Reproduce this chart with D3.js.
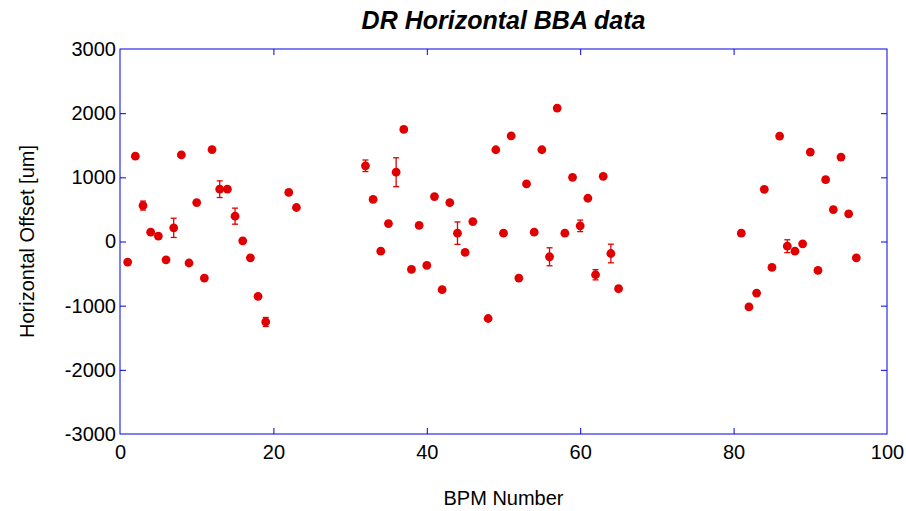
<!DOCTYPE html>
<html>
<head>
<meta charset="utf-8">
<script src="https://cdn.jsdelivr.net/npm/d3@7"></script>
<style>
	body { margin: 0; background: #fff; }
	svg { display: block; font-family: "Liberation Sans", Arial, sans-serif; }
</style>
</head>
<body>
<div id="chart"></div>
<script>
// BPM numbers and measured horizontal offsets (um), with error half-widths
const bpm = [1, 2, 3, 4, 5, 6, 7, 8, 9, 10, 11, 12, 13, 14, 15, 16, 17, 18, 19, 22, 23,
	32, 33, 34, 35, 36, 37, 38, 39, 40, 41, 42, 43, 44, 45, 46, 48, 49, 50, 51, 52, 53, 54,
	55, 56, 57, 58, 59, 60, 61, 62, 63, 64, 65,
	81, 82, 83, 84, 85, 86, 87, 88, 89, 90, 91, 92, 93, 94, 95, 96];
const offset = [-320, 1330, 560, 145, 85, -285, 213, 1350, -335, 606, -570, 1432, 815, 815, 395, 10, -254, -855, -1254, 765, 530,
	1180, 655, -150, 280, 1080, 1746, -435, 250, -373, 700, -750, 606, 130, -170, 311, -1200, 1430, 130, 1645, -570, 897, 145,
	1430, -238, 2080, 130, 1000, 244, 674, -518, 1015, -187, -736,
	130, -1020, -803, 813, -404, 1643, -73, -150, -36, 1394, -451, 964, 497, 1316, 430, -254];
const errors = [0, 0, 70, 0, 0, 0, 150, 0, 0, 0, 0, 0, 130, 0, 125, 0, 0, 0, 70, 0, 0,
	90, 0, 0, 0, 225, 0, 0, 0, 0, 0, 0, 0, 175, 0, 0, 0, 0, 0, 0, 0, 0, 0,
	0, 140, 0, 0, 0, 90, 0, 80, 0, 145, 0,
	40, 0, 0, 0, 0, 0, 100, 0, 0, 0, 0, 0, 0, 0, 0, 0];

const xTicks = [0, 20, 40, 60, 80, 100];
const yTicks = [-3000, -2000, -1000, 0, 1000, 2000, 3000];

const width = 906;
const height = 511;
const margin = ({ top: 49, right: 19, bottom: 77, left: 120 });

const data = bpm.map((b, i) => ({ x: b, y: offset[i], e: errors[i] }));

const x = d3.scaleLinear()
	.domain([0, 100])
	.range([margin.left, width - margin.right]);

const y = d3.scaleLinear()
	.domain([-3000, 3000])
	.range([height - margin.bottom, margin.top]);

const axisColor = "#0000e6";
const plain = d => d.toString();

const svg = d3.select("#chart")
	.append("svg")
	.attr("width", width)
	.attr("height", height)
	.attr("viewBox", [0, 0, width, height]);

const styleAxis = g => {
	g.select(".domain").remove();
	g.selectAll(".tick line").attr("stroke", axisColor);
	g.selectAll(".tick text").attr("fill", "#000").attr("font-size", 20);
};

// bottom axis with labels, ticks inward
svg.append("g")
	.attr("transform", `translate(0,${height - margin.bottom})`)
	.call(d3.axisBottom(x).tickValues(xTicks).tickSizeInner(-6).tickSizeOuter(0).tickPadding(11).tickFormat(plain))
	.call(styleAxis)
	.call(g => g.selectAll(".tick").filter(d => d === 0 || d === 100).select("line").remove());

// top ticks
svg.append("g")
	.attr("transform", `translate(0,${margin.top})`)
	.call(d3.axisTop(x).tickValues(xTicks).tickSizeInner(-6).tickSizeOuter(0).tickFormat(""))
	.call(styleAxis)
	.call(g => g.selectAll(".tick").filter(d => d === 0 || d === 100).select("line").remove());

// left axis with labels
svg.append("g")
	.attr("transform", `translate(${margin.left},0)`)
	.call(d3.axisLeft(y).tickValues(yTicks).tickSizeInner(-6).tickSizeOuter(0).tickPadding(4).tickFormat(plain))
	.call(styleAxis)
	.call(g => g.selectAll(".tick").filter(d => d === 3000 || d === -3000).select("line").remove());

// right ticks
svg.append("g")
	.attr("transform", `translate(${width - margin.right},0)`)
	.call(d3.axisRight(y).tickValues(yTicks).tickSizeInner(-6).tickSizeOuter(0).tickFormat(""))
	.call(styleAxis)
	.call(g => g.selectAll(".tick").filter(d => d === 3000 || d === -3000).select("line").remove());

// frame
svg.append("rect")
	.attr("x", x(0))
	.attr("y", y(3000))
	.attr("width", x(100) - x(0))
	.attr("height", y(-3000) - y(3000))
	.attr("fill", "none")
	.attr("stroke", axisColor)
	.attr("stroke-width", 1);

// error bars
const eb = svg.append("g")
	.attr("stroke", "#e00000")
	.attr("stroke-width", 1.3)
	.selectAll("g")
	.data(data.filter(d => d.e > 0))
	.join("g");

eb.append("line")
	.attr("x1", d => x(d.x)).attr("x2", d => x(d.x))
	.attr("y1", d => y(d.y - d.e)).attr("y2", d => y(d.y + d.e));
eb.append("line")
	.attr("x1", d => x(d.x) - 3).attr("x2", d => x(d.x) + 3)
	.attr("y1", d => y(d.y - d.e)).attr("y2", d => y(d.y - d.e));
eb.append("line")
	.attr("x1", d => x(d.x) - 3).attr("x2", d => x(d.x) + 3)
	.attr("y1", d => y(d.y + d.e)).attr("y2", d => y(d.y + d.e));

// markers
svg.append("g")
	.attr("fill", "#e00000")
	.selectAll("circle")
	.data(data)
	.join("circle")
	.attr("cx", d => x(d.x))
	.attr("cy", d => y(d.y))
	.attr("r", 4.4);

// title and labels
svg.append("text")
	.attr("x", (x(0) + x(100)) / 2)
	.attr("y", 29)
	.attr("text-anchor", "middle")
	.attr("font-size", 25)
	.attr("font-weight", "bold")
	.attr("font-style", "italic")
	.text("DR Horizontal BBA data");

svg.append("text")
	.attr("x", (x(0) + x(100)) / 2)
	.attr("y", 505)
	.attr("text-anchor", "middle")
	.attr("font-size", 20)
	.text("BPM Number");

svg.append("text")
	.attr("transform", `translate(34,${y(0)}) rotate(-90)`)
	.attr("text-anchor", "middle")
	.attr("font-size", 20)
	.text("Horizontal Offset [um]");
</script>
</body>
</html>
